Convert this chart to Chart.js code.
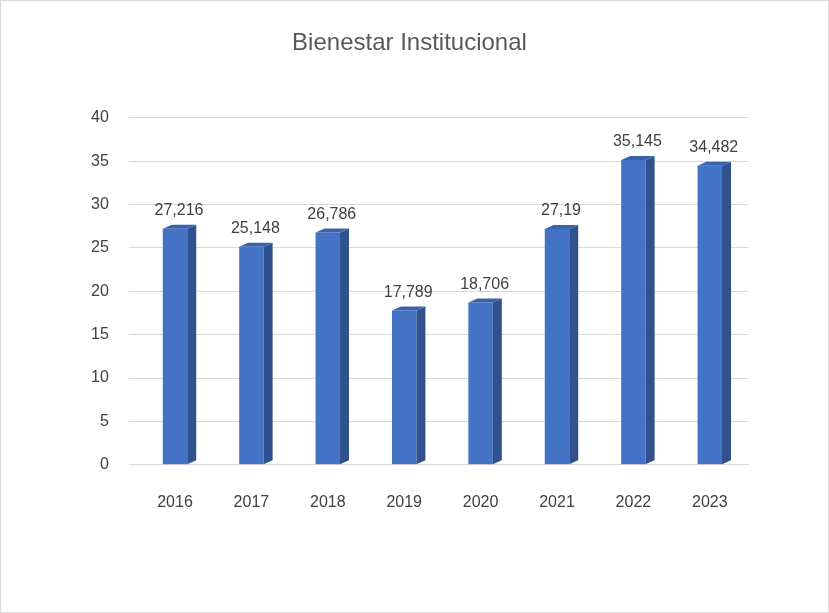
<!DOCTYPE html>
<html>
<head>
<meta charset="utf-8">
<script src="https://cdn.jsdelivr.net/npm/chart.js@4/dist/chart.umd.min.js"></script>
<style>
  html, body { margin: 0; padding: 0; background: #fff; }
  #wrap { position: absolute; left: 0; top: 0; width: 827px; height: 611px; border: 1px solid #d9d9d9; }
</style>
</head>
<body>
<div id="wrap"><canvas id="myChart"></canvas></div>
<script>
const years = ['2016', '2017', '2018', '2019', '2020', '2021', '2022', '2023'];
const values = [27.216, 25.148, 26.786, 17.789, 18.706, 27.19, 35.145, 34.482];
const valueLabels = ['27,216', '25,148', '26,786', '17,789', '18,706', '27,19', '35,145', '34,482'];

// side face of each bar, to look a little like the 3D original
const sideFace = {
  id: 'sideFace',
  afterDatasetsDraw(chart) {
    const ctx = chart.ctx;
    const meta = chart.getDatasetMeta(0);
    ctx.save();
    for (let bar of meta.data) {
      const right = bar.x + bar.width / 2;
      const d = 9, up = 4;
      ctx.fillStyle = '#2F528F';
      ctx.beginPath();
      ctx.moveTo(right, bar.y);
      ctx.lineTo(right + d, bar.y - up);
      ctx.lineTo(right + d, bar.base - up);
      ctx.lineTo(right, bar.base);
      ctx.closePath();
      ctx.fill();
      ctx.fillStyle = '#3A63AE';
      ctx.beginPath();
      ctx.moveTo(bar.x - bar.width / 2, bar.y);
      ctx.lineTo(bar.x - bar.width / 2 + d, bar.y - up);
      ctx.lineTo(right + d, bar.y - up);
      ctx.lineTo(right, bar.y);
      ctx.closePath();
      ctx.fill();
    }
    // value labels
    ctx.fillStyle = '#404040';
    ctx.font = '16px "Liberation Sans", Arial, sans-serif';
    ctx.textAlign = 'center';
    ctx.textBaseline = 'bottom';
    meta.data.forEach((bar, i) => {
      ctx.fillText(valueLabels[i], bar.x + 4, bar.y - 10);
    });
    ctx.restore();
  }
};

const ctx = document.getElementById('myChart').getContext('2d');
// eslint-disable-next-line no-undef
const chart = new Chart(ctx, {
  type: 'bar',
  data: {
    labels: years,
    datasets: [{
      data: values,
      backgroundColor: '#4472C4',
      barPercentage: 0.32,
      categoryPercentage: 1
    }]
  },
  options: {
    responsive: true,
    maintainAspectRatio: false,
    animation: false,
    layout: { padding: { left: 70, right: 80, top: 10, bottom: 80 } },
    plugins: {
      legend: { display: false },
      tooltip: { enabled: false },
      title: {
        display: true,
        text: 'Bienestar Institucional',
        color: '#595959',
        font: { size: 24, family: '"Liberation Sans", Arial, sans-serif', weight: 'normal' },
        padding: { top: 18, bottom: 60 }
      }
    },
    scales: {
      x: {
        grid: { display: false },
        border: { color: '#d9d9d9' },
        ticks: { color: '#404040', font: { size: 16, family: '"Liberation Sans", Arial, sans-serif' }, padding: 20 }
      },
      y: {
        min: 0,
        max: 40,
        ticks: { stepSize: 5, color: '#404040', font: { size: 16, family: '"Liberation Sans", Arial, sans-serif' }, padding: 20 },
        grid: { color: '#d9d9d9' },
        border: { display: false }
      }
    }
  },
  plugins: [sideFace]
});
</script>
</body>
</html>
